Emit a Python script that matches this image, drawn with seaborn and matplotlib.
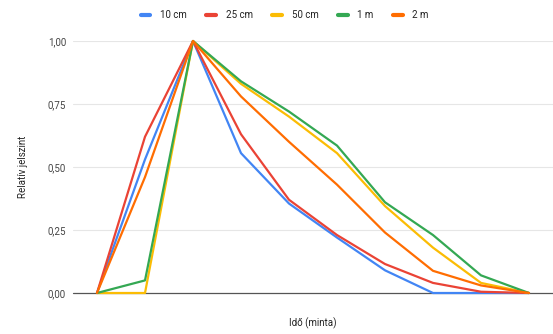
import numpy as np
import pandas as pd
import matplotlib
matplotlib.use("Agg")
import matplotlib.pyplot as plt
import seaborn as sns
from matplotlib.lines import Line2D

# Data
samples = list(range(10))
series_names = ["10 cm", "25 cm", "50 cm", "1 m", "2 m"]
v_10cm = [0.00, 0.53, 1.00, 0.555, 0.355, 0.22, 0.09, 0.00, 0.00, 0.00]
v_25cm = [0.00, 0.62, 1.00, 0.63, 0.37, 0.23, 0.115, 0.04, 0.005, 0.00]
v_50cm = [0.00, 0.00, 1.00, 0.83, 0.70, 0.555, 0.345, 0.18, 0.04, 0.00]
v_1m = [0.00, 0.05, 1.00, 0.84, 0.72, 0.585, 0.36, 0.23, 0.07, 0.00]
v_2m = [0.00, 0.46, 1.00, 0.78, 0.60, 0.43, 0.24, 0.088, 0.03, 0.00]
y_ticks = [0.0, 0.25, 0.5, 0.75, 1.0]
y_tick_labels = ["0,00", "0,25", "0,50", "0,75", "1,00"]
x_label = "Idő (minta)"
y_label = "Relatív jelszint"

colors = ["#4285F4", "#EA4335", "#FBBC04", "#34A853", "#FF6D01"]

rows = []
for name, vals in zip(series_names, [v_10cm, v_25cm, v_50cm, v_1m, v_2m]):
    for x, v in zip(samples, vals):
        rows.append({"x": x, "y": v, "series": name})
df = pd.DataFrame(rows)

sns.set_theme(style="white")
plt.rcParams["font.family"] = ["Roboto", "DejaVu Sans"]

fig = plt.figure(figsize=(5.53, 3.34), dpi=100)
ax = fig.add_axes([73 / 553, (334 - 293) / 334, (553 - 73) / 553, (293 - 41) / 334])

sns.lineplot(data=df, x="x", y="y", hue="series", hue_order=series_names,
             palette=colors, linewidth=1.6, ax=ax, legend=False)
for line in ax.lines:
    line.set_clip_on(False)
    line.set_solid_joinstyle("round")

ax.set_xlim(-0.5, 9.5)
ax.set_ylim(0, 1)
ax.set_yticks(y_ticks)
ax.set_yticklabels(y_tick_labels)
ax.set_xticks(samples)
ax.set_xticklabels([])
for y in y_ticks[1:]:
    ax.axhline(y, color="#e6e6e6", linewidth=0.8, zorder=0)
ax.axhline(0, color="#555555", linewidth=0.9, zorder=1, clip_on=False)
for s in ax.spines.values():
    s.set_visible(False)
ax.tick_params(axis="y", length=0, labelsize=7, labelcolor="#444444", pad=5)
ax.tick_params(axis="x", length=4, direction="inout", color="#555555", width=0.8)

ax.set_xlabel(x_label, fontsize=7, color="#222222", labelpad=12)
ax.set_ylabel(y_label, fontsize=7, color="#222222", labelpad=14)

handles = [Line2D([0], [0], color=c, linewidth=3, solid_capstyle="round") for c in colors]
fig.legend(handles, series_names, loc="center", bbox_to_anchor=(0.515, 1 - 15 / 334),
           ncol=5, frameon=False, fontsize=7, handlelength=1.0, handletextpad=1.0,
           columnspacing=2.0, labelcolor="#222222")

fig.savefig("out.png", dpi=100)
